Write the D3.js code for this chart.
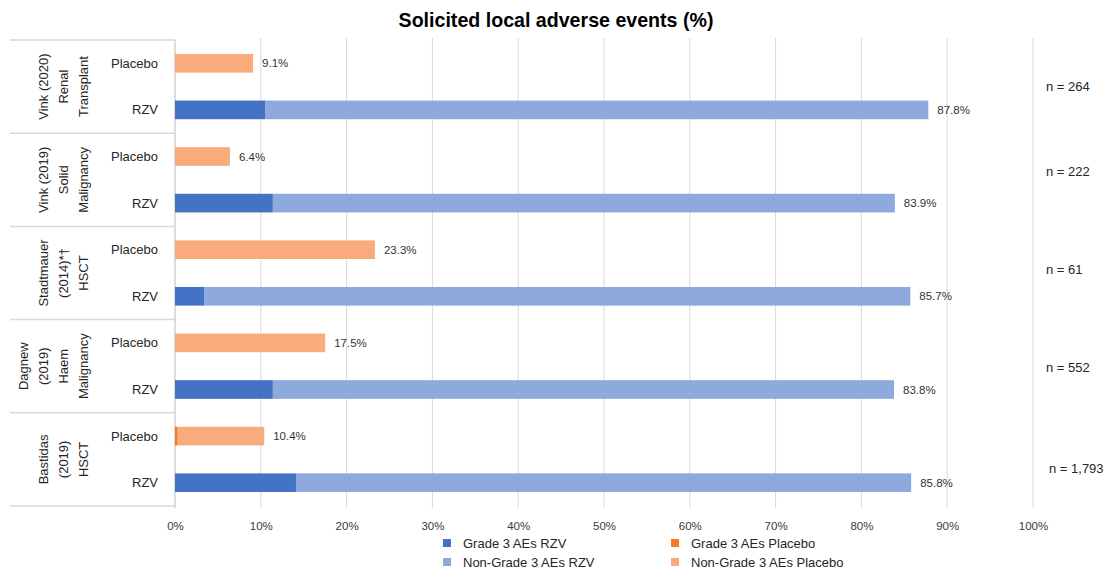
<!DOCTYPE html>
<html>
<head>
<meta charset="utf-8">
<script src="https://cdn.jsdelivr.net/npm/d3@7"></script>
<style>
  html, body { margin: 0; padding: 0; background: #ffffff; }
  svg { display: block; font-family: "Liberation Sans", Arial, sans-serif; }
</style>
</head>
<body>
<svg id="chart" width="1108" height="571"></svg>
<script>
// Studies (each entry is the stacked lines of the rotated group label)
const studies = [
  ["Vink (2020)", "Renal", "Transplant"],
  ["Vink (2019)", "Solid", "Malignancy"],
  ["Stadtmauer", "(2014)*\u2020", "HSCT"],
  ["Dagnew", "(2019)", "Haem", "Malignancy"],
  ["Bastidas", "(2019)", "HSCT"]
];
const arms = ["Placebo", "RZV"];
const sampleSizes = ["n = 264", "n = 222", "n = 61", "n = 552", "n = 1,793"];

// Percentages of participants with solicited local adverse events
const rzvTotal = [87.8, 83.9, 85.7, 83.8, 85.8];
const rzvGrade3 = [10.5, 11.4, 3.4, 11.4, 14.1];
const placeboTotal = [9.1, 6.4, 23.3, 17.5, 10.4];
const placeboGrade3 = [0, 0, 0, 0, 0.3];

const xTicks = [0, 10, 20, 30, 40, 50, 60, 70, 80, 90, 100];
const legendItems = [
  { label: "Grade 3 AEs RZV", color: "#4472C4" },
  { label: "Grade 3 AEs Placebo", color: "#F47B20" },
  { label: "Non-Grade 3 AEs RZV", color: "#8EA9DB" },
  { label: "Non-Grade 3 AEs Placebo", color: "#FAAB7B" }
];
const colors = {
  rzvG3: "#4472C4", rzvNon: "#8EA9DB",
  plaG3: "#F47B20", plaNon: "#FAAB7B"
};

const svg = d3.select("#chart");
const plot = { left: 175, right: 1033, top: 40, bottom: 506 };
const textColor = "#262626";

const x = d3.scaleLinear().domain([0, 100]).range([plot.left, plot.right]);
const yGroup = d3.scaleBand().domain(d3.range(studies.length)).range([plot.top, plot.bottom]).padding(0);
const yArm = d3.scaleBand().domain(arms).range([0, yGroup.bandwidth()]).paddingInner(0.6).paddingOuter(0.3);

// Title in a condensed bold face, kept to a fixed width
const title = svg.append("text")
  .attr("x", 556).attr("y", 27)
  .attr("text-anchor", "middle")
  .attr("font-family", "'Liberation Sans Narrow', 'Arial Narrow', 'Liberation Sans', sans-serif")
  .attr("font-size", 20).attr("font-weight", "bold")
  .attr("fill", "#000")
  .text("Solicited local adverse events (%)");
const tw = title.node().getComputedTextLength();
if (tw > 0 && Math.abs(tw - 315) > 4) {
  title.attr("transform", `translate(556,0) scale(${315 / tw},1) translate(-556,0)`);
}

// Vertical gridlines
svg.append("g").selectAll("line")
  .data(xTicks.filter(d => d > 0))
  .join("line")
  .attr("x1", d => x(d)).attr("x2", d => x(d))
  .attr("y1", plot.top - 2).attr("y2", plot.bottom + 2)
  .attr("stroke", "#d9d9d9").attr("stroke-width", 1);

// Category table lines on the left
const sepY = d3.range(studies.length + 1).map(i => i < studies.length ? yGroup(i) : plot.bottom);
svg.append("g").selectAll("line")
  .data(sepY)
  .join("line")
  .attr("x1", 10).attr("x2", plot.left)
  .attr("y1", d => d).attr("y2", d => d)
  .attr("stroke", "#d9d9d9").attr("stroke-width", 1.5);
svg.append("line")
  .attr("x1", plot.left).attr("x2", plot.left)
  .attr("y1", plot.top).attr("y2", plot.bottom + 2)
  .attr("stroke", "#d0d0d0").attr("stroke-width", 1.5);

// X axis tick labels
const xAxis = d3.axisBottom(x).tickValues(xTicks).tickFormat(d => d + "%").tickSize(0);
const gx = svg.append("g").attr("transform", `translate(0,${plot.bottom + 13})`).call(xAxis);
gx.select(".domain").remove();
gx.selectAll("text").attr("font-size", 11.5).attr("fill", "#3a3a3a")
  .attr("font-family", "Liberation Sans, Arial, sans-serif");

// Bars
const rows = [];
studies.forEach((s, i) => {
  rows.push({ g: i, arm: "Placebo", g3: placeboGrade3[i], total: placeboTotal[i], c3: colors.plaG3, cn: colors.plaNon });
  rows.push({ g: i, arm: "RZV", g3: rzvGrade3[i], total: rzvTotal[i], c3: colors.rzvG3, cn: colors.rzvNon });
});
const bh = yArm.bandwidth();
const rowY = r => yGroup(r.g) + yArm(r.arm);

const bars = svg.append("g");
// Non-grade 3 segment stacked after the grade 3 segment
bars.selectAll("rect.non")
  .data(rows).join("rect").attr("class", "non")
  .attr("x", r => x(r.g3))
  .attr("width", r => x(r.total) - x(r.g3))
  .attr("y", rowY).attr("height", bh)
  .attr("fill", r => r.cn);
bars.selectAll("rect.g3")
  .data(rows.filter(r => r.g3 > 0)).join("rect").attr("class", "g3")
  .attr("x", x(0))
  .attr("width", r => x(r.g3) - x(0))
  .attr("y", rowY).attr("height", bh)
  .attr("fill", r => r.c3);

// Value labels
svg.append("g").selectAll("text")
  .data(rows).join("text")
  .attr("x", r => x(r.total) + 9)
  .attr("y", r => rowY(r) + bh / 2)
  .attr("dy", "0.35em")
  .attr("font-size", 11.5).attr("fill", "#333")
  .text(r => r.total.toFixed(1) + "%");

// Arm labels
svg.append("g").selectAll("text")
  .data(rows).join("text")
  .attr("x", 158)
  .attr("y", r => rowY(r) + bh / 2)
  .attr("dy", "0.35em")
  .attr("text-anchor", "end")
  .attr("font-size", 13).attr("fill", textColor)
  .text(r => r.arm);

// Rotated study labels
studies.forEach((lines, i) => {
  const cy = yGroup(i) + yGroup.bandwidth() / 2;
  const n = lines.length;
  lines.forEach((line, j) => {
    const cx = 83 - (n - 1 - j) * 20;
    svg.append("text")
      .attr("transform", `translate(${cx},${cy}) rotate(-90)`)
      .attr("text-anchor", "middle")
      .attr("dy", "0.35em")
      .attr("font-size", 13).attr("fill", textColor)
      .text(line);
  });
});

// Sample sizes on the right
const nY = [86, 171, 269, 367, 468];
const nX = [1046, 1046, 1046, 1046, 1049];
svg.append("g").selectAll("text")
  .data(sampleSizes).join("text")
  .attr("x", (d, i) => nX[i])
  .attr("y", (d, i) => nY[i])
  .attr("dy", "0.35em")
  .attr("font-size", 13).attr("fill", textColor)
  .text(d => d);

// Legend
const legendPos = [[443, 543], [671, 543], [443, 562], [671, 562]];
const lg = svg.append("g").selectAll("g")
  .data(legendItems).join("g")
  .attr("transform", (d, i) => `translate(${legendPos[i][0]},${legendPos[i][1]})`);
lg.append("rect").attr("x", 0).attr("y", -4).attr("width", 8).attr("height", 8).attr("fill", d => d.color);
lg.append("text").attr("x", 20).attr("y", 0).attr("dy", "0.35em")
  .attr("font-size", 13).attr("fill", textColor).text(d => d.label);
</script>
</body>
</html>
